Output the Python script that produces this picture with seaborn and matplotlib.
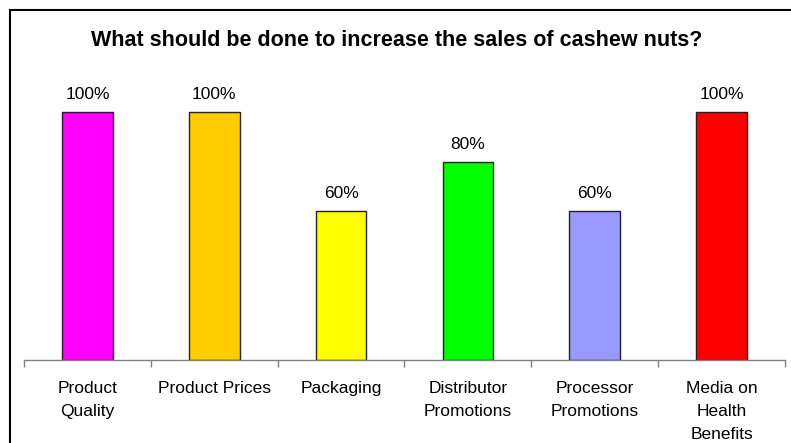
import matplotlib
matplotlib.use("Agg")
import matplotlib.pyplot as plt
from matplotlib.patches import Rectangle
import seaborn as sns
import pandas as pd
import numpy as np

categories = ["Product\nQuality", "Product Prices", "Packaging", "Distributor\nPromotions",
              "Processor\nPromotions", "Media on\nHealth\nBenefits"]
values = [100, 100, 60, 80, 60, 100]
colors = ["#FF00FF", "#FFCC00", "#FFFF00", "#00FF00", "#9999FF", "#FF0000"]
title = "What should be done to increase the sales of cashew nuts?"

sns.set_theme(style="white")
plt.rcParams["font.family"] = ["Liberation Sans", "DejaVu Sans"]
plt.rcParams["text.color"] = "black"
plt.rcParams["xtick.color"] = "black"

W, H = 791, 443
fig = plt.figure(figsize=(W / 100, H / 100), dpi=100)

# axes placed in pixel terms: x from 24 to 785, baseline at y=360 (from top)
ymax = 120
px_per_unit = 248 / 100
ax_h = ymax * px_per_unit
ax = fig.add_axes([24 / W, (H - 360) / H, (785 - 24) / W, ax_h / H])

df = pd.DataFrame({"cat": categories, "val": values})
sns.barplot(data=df, x="cat", y="val", hue="cat", palette=colors, legend=False,
            saturation=1, width=0.4, edgecolor="#222222", linewidth=1.0, ax=ax)

ax.set_ylim(0, ymax)
ax.set_xlim(-0.5, len(categories) - 0.5)
for s in ["top", "right", "left"]:
    ax.spines[s].set_visible(False)
ax.spines["bottom"].set_color("#808080")
ax.spines["bottom"].set_linewidth(1.0)
ax.set_yticks([])
ax.set_xlabel("")
ax.set_ylabel("")

# category labels centered, tick marks at category boundaries
ax.set_xticks(np.arange(len(categories)))
ax.set_xticklabels(categories, fontsize=12.5, linespacing=1.68, va="top", color="black")
ax.tick_params(axis="x", which="major", length=0, pad=15)
ax.set_xticks(np.arange(len(categories) + 1) - 0.5, minor=True)
ax.tick_params(axis="x", which="minor", length=5, width=1.0, color="#808080", bottom=True)

for i, v in enumerate(values):
    ax.annotate(f"{v}%", (i, v), xytext=(0, 7), textcoords="offset points",
                ha="center", va="bottom", fontsize=12.5, color="black")

fig.text(397 / W, 1 - 41 / H, title, ha="center", va="center", fontsize=15.5,
         fontweight="bold", color="black")

# chart frame (extends past the right and bottom edges)
fig.patches.append(Rectangle((10 / W, -0.1), 1.2, 1 - 10 / H + 0.1,
                             transform=fig.transFigure, fill=False,
                             edgecolor="black", linewidth=1.5))

fig.savefig("out.png", dpi=100)
